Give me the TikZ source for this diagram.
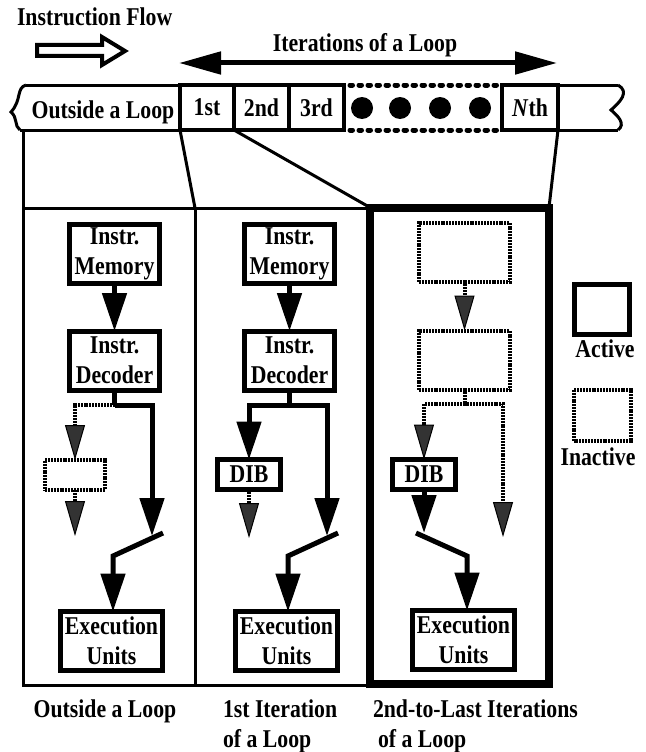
\documentclass[tikz,border=0pt]{standalone}
\usepackage{fontspec}
\setmainfont[FakeStretch=0.85]{Liberation Serif}
\usetikzlibrary{arrows.meta}
\begin{document}
\begin{tikzpicture}[x=1pt,y=-1pt,
  every node/.style={font=\bfseries\fontsize{25.6}{30}\selectfont, inner sep=0pt, outer sep=0pt},
  abox/.style={draw, line width=5pt, minimum width=90pt, minimum height=59pt, align=center},
  ibox/.style={draw, line width=4pt, dash pattern=on 2pt off 0.9pt, minimum width=91pt, minimum height=59pt},
  ebox/.style={draw, line width=5pt, minimum width=102pt, minimum height=59pt, align=center},
  dbox/.style={draw, line width=5pt, minimum width=63pt, minimum height=30pt},
  cell/.style={draw, line width=4pt, minimum height=45pt},
  panel/.style={draw, line width=3pt, minimum height=477pt},
  thinln/.style={line width=3pt},
  tapeln/.style={line width=3pt},
  dotln/.style={line width=5pt, dash pattern=on 2.5pt off 6.5pt, line cap=round},
  ln/.style={line width=5pt},
  arr/.style={line width=5pt, -{Triangle[length=38pt,width=24pt]}},
  inln/.style={line width=4pt, dash pattern=on 2pt off 0.9pt},
  inarr/.style={inln, -{Triangle[length=35pt,width=20pt,fill=black!80,line width=1pt]}},
  bigarr/.style={line width=5pt, {Triangle[length=42pt,width=22pt]}-{Triangle[length=42pt,width=22pt]}}
]
\useasboundingbox (0,0) rectangle (645,752);

% header
\node[anchor=base west] (flow) at (17,26) {Instruction Flow};
\draw[line width=4pt, fill=white, line join=miter]
  (37,45) -- (102,45) -- (102,37) -- (125,51) -- (102,65) -- (102,56) -- (37,56) -- cycle;
\node[anchor=base] (iter) at (365,52) {Iterations of a Loop};
\coordinate (ia) at (179,63);
\coordinate (ib) at (557,63);
\draw[bigarr] (ia) -- (ib);

% tape
\draw[tapeln] (26,85) .. controls (16,88) and (22,100) .. (11,112) .. controls (18,118) and (14,126) .. (20,130);
\draw[tapeln] (618,85) .. controls (630,92) and (620,102) .. (611,110) .. controls (618,116) and (626,124) .. (618,130);
\draw[tapeln] (26,85) -- (344,85);
\draw[tapeln] (20,130) -- (344,130);
\draw[tapeln] (502,85) -- (618,85);
\draw[tapeln] (502,130) -- (618,130);
\draw[dotln] (350,85) -- (497,85);
\draw[dotln] (350,130) -- (497,130);
\node[anchor=base] (outs) at (103,118) {Outside a Loop};
\node[cell, minimum width=54pt] (c1) at (207,107.5) {1st};
\node[cell, minimum width=55pt] (c2) at (261.5,107.5) {2nd};
\node[cell, minimum width=55pt] (c3) at (316.5,107.5) {3rd};
\node[cell, minimum width=56pt] (cN) at (530,107.5) {\textit{N}th};
\fill (362,108) circle (11pt);
\fill (400,108) circle (11pt);
\fill (440,108) circle (11pt);
\fill (480,108) circle (11pt);

% panels
\node[panel, minimum width=172pt] (p1) at (109,446.5) {};
\node[panel, minimum width=175pt] (p2) at (282.5,446.5) {};
\node[draw, line width=8pt, minimum width=179pt, minimum height=476.5pt] (p3) at (459.5,445.75) {};
\coordinate (t0) at (23,130);
\draw[thinln] (t0) -- (p1.north west);
\draw[thinln] (c1.south west) -- (p2.north west);
\draw[thinln] (c2.south west) -- (p3.north west);
\draw[thinln] (cN.south east) -- (p3.north east);

% panel 1: outside a loop
\node[abox] (mem1) at (114.5,253.5) {Instr.\\Memory};
\node[abox] (dec1) at (114.5,360.5) {Instr.\\Decoder};
\node[ibox, minimum width=60pt, minimum height=30pt] (ina1) at (75,475) {};
\node[ebox] (exec1) at (111.5,641) {Execution\\Units};
\coordinate (b1) at (114.5,405);
\coordinate (l1) at (75,405);
\coordinate (r1) at (152,405);
\coordinate (rt1) at (152,536);
\coordinate (e1) at (75,536);
\coordinate (s1a) at (163,533);
\coordinate (s1b) at (113,556);
\draw[arr] (mem1) -- (dec1);
\draw[ln] (dec1.south) -- (b1);
\draw[inarr] (b1) -- (l1) -- (ina1.north);
\draw[arr] (b1) -- (r1) -- (rt1);
\draw[inarr] (ina1.south) -- (e1);
\draw[arr] (s1a) -- (s1b) -- (s1b |- exec1.north);

% panel 2: 1st iteration
\node[abox] (mem2) at (289.5,253.5) {Instr.\\Memory};
\node[abox] (dec2) at (289.5,360.5) {Instr.\\Decoder};
\node[dbox] (dib2) at (249,474.5) {DIB};
\node[ebox] (exec2) at (286.5,641) {Execution\\Units};
\coordinate (b2) at (289.5,405);
\coordinate (l2) at (249,405);
\coordinate (r2) at (327,405);
\coordinate (rt2) at (327,536);
\coordinate (e2) at (249,538);
\coordinate (s2a) at (338,533);
\coordinate (s2b) at (288,556);
\draw[arr] (mem2) -- (dec2);
\draw[ln] (dec2.south) -- (b2);
\draw[arr] (b2) -- (l2) -- (dib2.north);
\draw[arr] (b2) -- (r2) -- (rt2);
\draw[inarr] (dib2.south) -- (e2);
\draw[arr] (s2a) -- (s2b) -- (s2b |- exec2.north);

% panel 3: 2nd-to-last iterations
\node[ibox] (mem3) at (464.5,252) {};
\node[ibox] (dec3) at (464.5,360) {};
\node[dbox] (dib3) at (424,474.5) {DIB};
\node[ebox] (exec3) at (463.5,640) {Execution\\Units};
\coordinate (b3) at (464.5,404);
\coordinate (l3) at (424,404);
\coordinate (r3) at (503,404);
\coordinate (rt3) at (424,533);
\coordinate (e3) at (503,537);
\coordinate (s3a) at (416,533);
\coordinate (s3b) at (467,556);
\draw[inarr] (mem3) -- (dec3);
\draw[inln] (dec3.south) -- (b3);
\draw[inarr] (b3) -- (l3) -- (dib3.north);
\draw[inarr] (b3) -- (r3) -- (e3);
\draw[arr] (dib3.south) -- (rt3);
\draw[arr] (s3a) -- (s3b) -- (s3b |- exec3.north);

% legend
\node[draw, line width=5pt, minimum width=55pt, minimum height=50pt] (lact) at (602,309.5) {};
\node[anchor=base] (tact) at (605,357) {Active};
\node[ibox, minimum width=57pt, minimum height=51pt] (linact) at (602,415) {};
\node[anchor=base] (tinact) at (598,465) {Inactive};

% captions
\node[anchor=base] (cap1) at (105,717) {Outside a Loop};
\node[anchor=north west, align=left] (cap2) at (223,699.5) {1st Iteration\\of a Loop};
\node[anchor=north west, align=left] (cap3) at (373,699.5) {2nd-to-Last Iterations\\\hspace*{5pt}of a Loop};
\end{tikzpicture}
\end{document}
